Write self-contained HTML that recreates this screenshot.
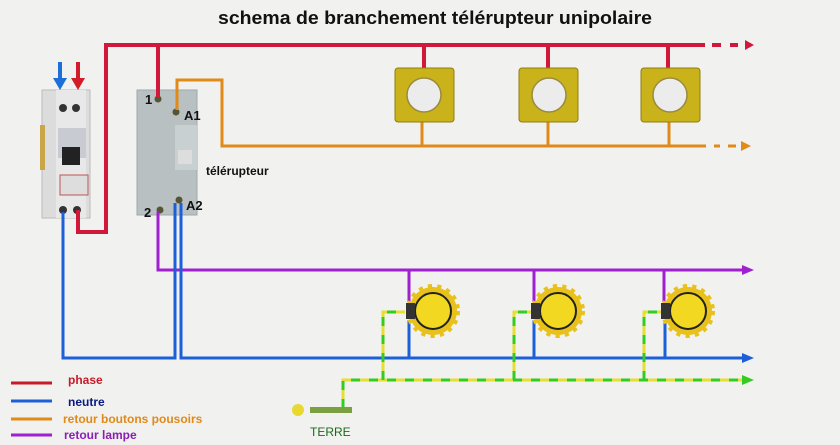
<!DOCTYPE html>
<html><head><meta charset="utf-8"><style>
body{margin:0;background:#f1f1f0;}
svg{display:block;font-family:"Liberation Sans",sans-serif;font-weight:bold;}
</style></head><body>
<svg width="840" height="445" viewBox="0 0 840 445" xmlns="http://www.w3.org/2000/svg">
<rect width="840" height="445" fill="#f1f1f0"/>
<text x="218" y="24" font-size="18" fill="#111" textLength="434" lengthAdjust="spacingAndGlyphs">schema de branchement télérupteur unipolaire</text>
<!-- breaker -->
<rect x="42" y="90" width="48" height="128" fill="#dcdcdc" stroke="#bbb"/>
<rect x="56" y="90" width="30" height="128" fill="#e8e8e8"/>
<rect x="40" y="125" width="5" height="45" fill="#c9a64a"/>
<rect x="58" y="128" width="28" height="30" fill="#c8ccd2"/>
<rect x="62" y="147" width="18" height="18" fill="#222"/>
<rect x="60" y="175" width="28" height="20" fill="#ddd" stroke="#b55"/>
<circle cx="63" cy="108" r="4" fill="#333"/><circle cx="76" cy="108" r="4" fill="#333"/>
<circle cx="63" cy="210" r="4" fill="#333"/><circle cx="77" cy="210" r="4" fill="#333"/>
<path d="M60 62V82" stroke="#1c6fd8" stroke-width="4"/><path d="M53 78L60 90L67 78Z" fill="#1c6fd8"/>
<path d="M78 62V82" stroke="#d21c2a" stroke-width="4"/><path d="M71 78L78 90L85 78Z" fill="#d21c2a"/>
<!-- telerupteur -->
<rect x="137" y="90" width="60" height="125" fill="#b9c0c2" stroke="#9aa"/>
<rect x="175" y="125" width="22" height="45" fill="#c9d0d2"/>
<rect x="178" y="150" width="14" height="14" fill="#ddd"/>
<circle cx="158" cy="99" r="3.5" fill="#553"/><circle cx="176" cy="112" r="3.5" fill="#553"/>
<circle cx="160" cy="210" r="3.5" fill="#553"/><circle cx="179" cy="200" r="3.5" fill="#553"/>
<g font-size="13" fill="#111"><text x="145" y="104">1</text><text x="184" y="120">A1</text><text x="144" y="217">2</text><text x="186" y="210">A2</text></g>
<text x="206" y="175" font-size="12" fill="#111">télérupteur</text>
<!-- red -->
<g fill="none" stroke="#d0183a" stroke-width="4">
<path d="M78 210V232H106V45H705"/>
<path d="M158 45V97"/>
<path d="M424 45V70M548 45V70M668 45V70"/>
<path d="M712 45H721M730 45H738"/>
</g>
<path d="M745 40L754 45L745 50Z" fill="#d0183a"/>
<!-- orange -->
<g fill="none" stroke="#e08a18" stroke-width="3">
<path d="M177 110V80H222V146H706"/>
<path d="M422 122V146M548 122V146M669 122V146"/>
<path d="M714 146H720M728 146H736"/>
</g>
<path d="M741 141L751 146L741 151Z" fill="#e08a18"/>
<!-- switches -->
<g>
<rect x="395" y="68" width="59" height="54" rx="3" fill="#c9b21a" stroke="#8f7e10"/>
<circle cx="424" cy="95" r="17" fill="#ececec" stroke="#9a8a40" stroke-width="1.5"/>
<rect x="519" y="68" width="59" height="54" rx="3" fill="#c9b21a" stroke="#8f7e10"/>
<circle cx="549" cy="95" r="17" fill="#ececec" stroke="#9a8a40" stroke-width="1.5"/>
<rect x="641" y="68" width="59" height="54" rx="3" fill="#c9b21a" stroke="#8f7e10"/>
<circle cx="670" cy="95" r="17" fill="#ececec" stroke="#9a8a40" stroke-width="1.5"/>
</g>
<!-- purple -->
<g fill="none" stroke="#a020d0" stroke-width="3">
<path d="M158 212V270H745"/>
<path d="M409 270V305M534 270V305M664 270V305"/>
</g>
<path d="M742 265L754 270L742 275Z" fill="#a020d0"/>
<!-- blue -->
<g fill="none" stroke="#1c5fd8" stroke-width="3">
<path d="M63 212V358H175V203"/>
<path d="M181 203V358H745"/>
<path d="M409 358V320M534 358V320M665 358V320"/>
</g>
<path d="M742 353L754 358L742 363Z" fill="#1c5fd8"/>
<!-- earth -->
<g fill="none" stroke-width="3">
<path d="M343 408V380H745M383 380V312H405M514 380V312H533M644 380V312H663" stroke="#e2e030"/>
<path d="M343 408V380H745M383 380V312H405M514 380V312H533M644 380V312H663" stroke="#33cc22" stroke-dasharray="9 9"/>
</g>
<path d="M742 375L754 380L742 385Z" fill="#33cc22"/>
<circle cx="298" cy="410" r="6" fill="#e8d830"/>
<rect x="310" y="407" width="42" height="6" fill="#7aa040"/>
<text x="310" y="436" font-size="12" fill="#1a6a1a" font-weight="normal">TERRE</text>
<!-- lamps -->
<g transform="translate(433,311)">
<circle r="24" fill="#e8c21a" stroke="#e8c21a" stroke-dasharray="4 5" stroke-width="6"/>
<circle r="18" fill="#f2d820" stroke="#222" stroke-width="2"/>
<rect x="-27" y="-8" width="9" height="16" fill="#333"/>
</g>
<g transform="translate(558,311)">
<circle r="24" fill="#e8c21a" stroke="#e8c21a" stroke-dasharray="4 5" stroke-width="6"/>
<circle r="18" fill="#f2d820" stroke="#222" stroke-width="2"/>
<rect x="-27" y="-8" width="9" height="16" fill="#333"/>
</g>
<g transform="translate(688,311)">
<circle r="24" fill="#e8c21a" stroke="#e8c21a" stroke-dasharray="4 5" stroke-width="6"/>
<circle r="18" fill="#f2d820" stroke="#222" stroke-width="2"/>
<rect x="-27" y="-8" width="9" height="16" fill="#333"/>
</g>
<!-- legend -->
<g stroke-width="3">
<path d="M11 383H52" stroke="#c81a28"/><path d="M11 401H52" stroke="#1c5fd8"/>
<path d="M11 419H52" stroke="#e08a18"/><path d="M11 435H52" stroke="#a020d0"/>
</g>
<g font-size="12">
<text x="68" y="384" fill="#c81a28">phase</text>
<text x="68" y="406" fill="#0a1a80">neutre</text>
<text x="63" y="423" fill="#e08a18">retour boutons pousoirs</text>
<text x="64" y="439" fill="#8a20b0">retour lampe</text>
</g>
</svg>
</body></html>
